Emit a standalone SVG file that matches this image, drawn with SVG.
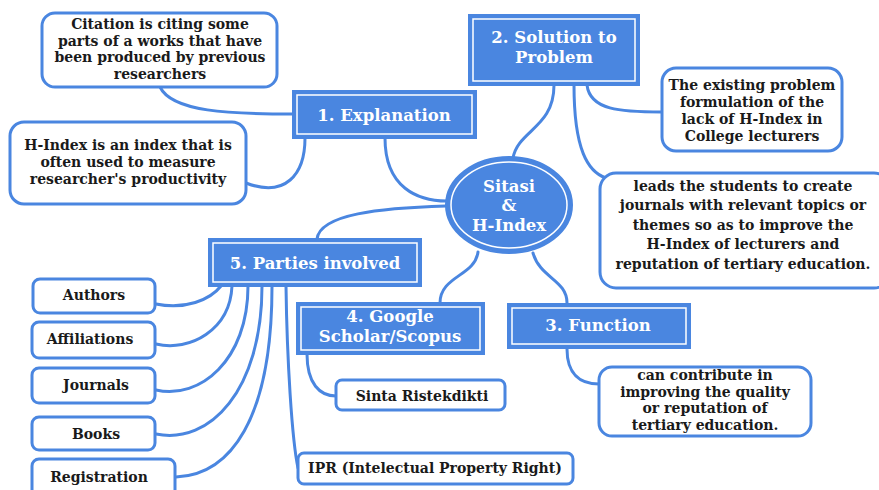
<svg xmlns="http://www.w3.org/2000/svg" width="879" height="490" viewBox="0 0 879 490">
<style>
.bg{fill:#ffffff}
.c{fill:none;stroke:#4a86e0;stroke-width:3;stroke-linecap:round}
.w{fill:#ffffff;stroke:#4a86e0;stroke-width:3}
.b{fill:#4a86e0;stroke:#4a86e0;stroke-width:2}
.bi{fill:none;stroke:#ffffff;stroke-width:1.5}
.t{font-family:"DejaVu Serif","Liberation Serif",serif;font-weight:bold;font-size:14px;fill:#1a1a1a;text-anchor:middle}
.h{font-family:"DejaVu Serif","Liberation Serif",serif;font-weight:bold;font-size:16.5px;fill:#ffffff;text-anchor:middle}
</style>
<rect class="bg" x="0" y="0" width="879" height="490"/>
<g id="connectors">
<path class="c" d="M160,87 C172,112 230,114 293,114"/>
<path class="c" d="M246,183 C285,198 305,175 305,138"/>
<path class="c" d="M385,138 C385,188 418,201 447,201"/>
<path class="c" d="M554,85 C554,128 518,130 513,158"/>
<path class="c" d="M587,85 C590,110 620,112 662,112"/>
<path class="c" d="M574,85 C574,150 588,172 606,178"/>
<path class="c" d="M446,206 C380,208 320,214 317,239"/>
<path class="c" d="M478,252 C475,276 440,276 440,303"/>
<path class="c" d="M533,253 C540,278 567,280 567,303"/>
<path class="c" d="M567,349 C567,374 580,384 599,384"/>
<path class="c" d="M307,354 C307,384 320,396 336,396"/>
<path class="c" d="M221,286 C210,300 185,310 156,304"/>
<path class="c" d="M232,286 C230,330 190,352 156,344"/>
<path class="c" d="M248,286 C248,360 200,400 156,390"/>
<path class="c" d="M262,286 C262,390 210,445 156,434"/>
<path class="c" d="M272,286 C272,420 230,475 176,477"/>
<path class="c" d="M286,286 C287,360 292,440 298,468"/>
</g>
<g id="center">
<ellipse cx="509" cy="205" rx="63" ry="48" class="b"/>
<ellipse cx="509" cy="205" rx="58" ry="43" class="bi"/>
<text class="h" x="509" y="192">Sitasi</text>
<text class="h" x="509" y="211">&amp;</text>
<text class="h" x="509" y="231">H-Index</text>
</g>
<g id="n-explanation">
<rect x="293" y="91" width="183" height="47" class="b"/>
<rect x="297" y="95" width="175" height="39" class="bi"/>
<text class="h" x="384" y="121">1. Explanation</text>
</g>
<g id="n-solution">
<rect x="469" y="15" width="170" height="70" class="b"/>
<rect x="473" y="19" width="162" height="62" class="bi"/>
<text class="h" x="554" y="43">2. Solution to</text>
<text class="h" x="554" y="63">Problem</text>
</g>
<g id="n-function">
<rect x="508" y="304" width="182" height="44" class="b"/>
<rect x="512" y="308" width="174" height="36" class="bi"/>
<text class="h" x="598" y="331">3. Function</text>
</g>
<g id="n-google">
<rect x="297" y="303" width="187" height="51" class="b"/>
<rect x="301" y="307" width="179" height="43" class="bi"/>
<text class="h" x="390" y="322">4. Google</text>
<text class="h" x="390" y="342">Scholar/Scopus</text>
</g>
<g id="n-parties">
<rect x="209" y="239" width="212" height="47" class="b"/>
<rect x="213" y="243" width="204" height="39" class="bi"/>
<text class="h" x="315" y="269">5. Parties involved</text>
</g>
<g id="n-citation">
<rect x="42" y="13" width="235" height="74" rx="13" class="w"/>
<text class="t" x="160" y="29">Citation is citing some</text>
<text class="t" x="160" y="46">parts of a works that have</text>
<text class="t" x="160" y="62">been produced by previous</text>
<text class="t" x="160" y="79">researchers</text>
</g>
<g id="n-hindex">
<rect x="10" y="122" width="236" height="82" rx="14" class="w"/>
<text class="t" x="128" y="150">H-Index is an index that is</text>
<text class="t" x="128" y="167">often used to measure</text>
<text class="t" x="128" y="184">researcher's productivity</text>
</g>
<g id="n-existing">
<rect x="662" y="68" width="180" height="83" rx="14" class="w"/>
<text class="t" x="752" y="90">The existing problem</text>
<text class="t" x="752" y="107">formulation of the</text>
<text class="t" x="752" y="124">lack of H-Index in</text>
<text class="t" x="752" y="141">College lecturers</text>
</g>
<g id="n-leads">
<rect x="600" y="173" width="290" height="115" rx="16" class="w"/>
<text class="t" x="743" y="191">leads the students to create</text>
<text class="t" x="743" y="210">journals with relevant topics or</text>
<text class="t" x="743" y="230">themes so as to improve the</text>
<text class="t" x="743" y="249">H-Index of lecturers and</text>
<text class="t" x="743" y="269">reputation of tertiary education.</text>
</g>
<g id="n-contribute">
<rect x="599" y="367" width="212" height="69" rx="13" class="w"/>
<text class="t" x="705" y="380">can contribute in</text>
<text class="t" x="705" y="397">improving the quality</text>
<text class="t" x="705" y="413">or reputation of</text>
<text class="t" x="705" y="430">tertiary education.</text>
</g>
<g id="n-sinta">
<rect x="336" y="380" width="169" height="30" rx="6" class="w"/>
<text class="t" x="422" y="401">Sinta Ristekdikti</text>
</g>
<g id="n-ipr">
<rect x="298" y="453" width="275" height="31" rx="6" class="w"/>
<text class="t" x="435" y="473">IPR (Intelectual Property Right)</text>
</g>
<g id="n-authors">
<rect x="33" y="279" width="122" height="34" rx="7" class="w"/>
<text class="t" x="94" y="300">Authors</text>
</g>
<g id="n-affiliations">
<rect x="32" y="322" width="123" height="36" rx="7" class="w"/>
<text class="t" x="90" y="344">Affiliations</text>
</g>
<g id="n-journals">
<rect x="32" y="368" width="123" height="35" rx="7" class="w"/>
<text class="t" x="96" y="390">Journals</text>
</g>
<g id="n-books">
<rect x="32" y="417" width="123" height="33" rx="7" class="w"/>
<text class="t" x="96" y="439">Books</text>
</g>
<g id="n-registration">
<rect x="32" y="459" width="143" height="40" rx="7" class="w"/>
<text class="t" x="99" y="482">Registration</text>
</g>
</svg>
